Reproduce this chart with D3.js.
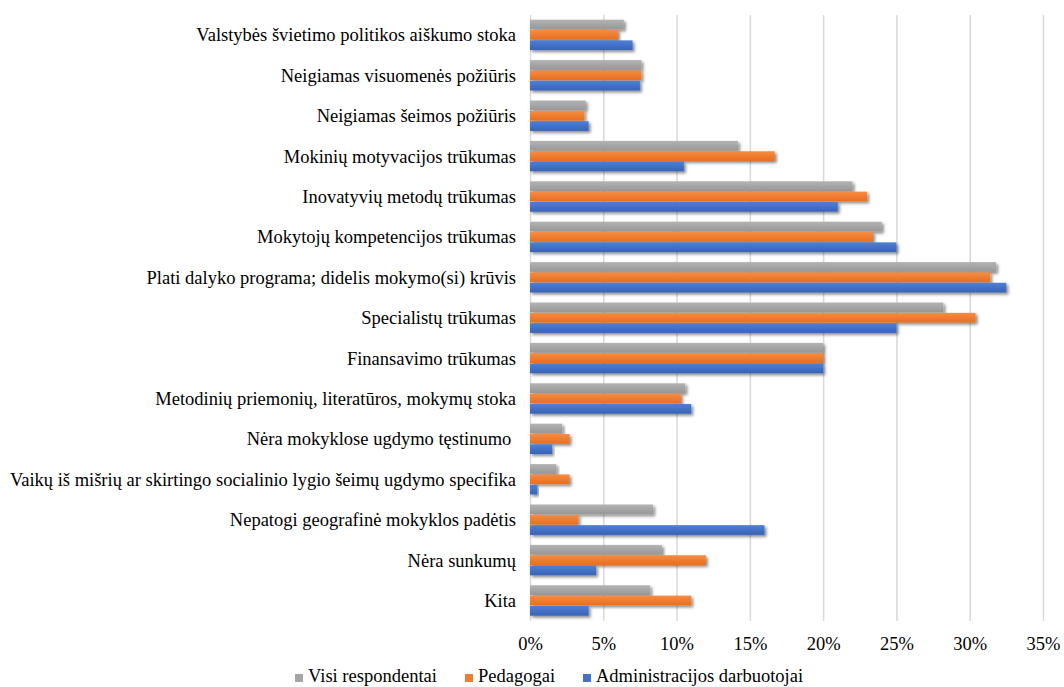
<!DOCTYPE html>
<html>
<head>
<meta charset="utf-8">
<script src="https://cdn.jsdelivr.net/npm/d3@7"></script>
<style>
  body { margin: 0; background: #fff; }
  text { font-family: "Liberation Serif", "Times New Roman", "DejaVu Serif", serif; fill: #000; }
</style>
</head>
<body>
<svg id="chart" width="1064" height="687"></svg>
<script>
const categories = [
    'Valstybės švietimo politikos aiškumo stoka',
    'Neigiamas visuomenės požiūris',
    'Neigiamas šeimos požiūris',
    'Mokinių motyvacijos trūkumas',
    'Inovatyvių metodų trūkumas',
    'Mokytojų kompetencijos trūkumas',
    'Plati dalyko programa; didelis mokymo(si) krūvis',
    'Specialistų trūkumas',
    'Finansavimo trūkumas',
    'Metodinių priemonių, literatūros, mokymų stoka',
    'Nėra mokyklose ugdymo tęstinumo ',
    'Vaikų iš mišrių ar skirtingo socialinio lygio šeimų ugdymo specifika',
    'Nepatogi geografinė mokyklos padėtis',
    'Nėra sunkumų',
    'Kita'
];
const seriesNames = ['Visi respondentai', 'Pedagogai', 'Administracijos darbuotojai'];
const visi = [6.4, 7.6, 3.8, 14.2, 22.0, 24.0, 31.8, 28.2, 20.0, 10.6, 2.2, 1.8, 8.4, 9.0, 8.2];
const pedagogai = [6.0, 7.6, 3.7, 16.7, 23.0, 23.4, 31.4, 30.4, 20.0, 10.3, 2.7, 2.7, 3.3, 12.0, 11.0];
const administracija = [7.0, 7.5, 4.0, 10.5, 21.0, 25.0, 32.5, 25.0, 20.0, 11.0, 1.5, 0.5, 16.0, 4.5, 4.0];
const xTicks = [0, 5, 10, 15, 20, 25, 30, 35];

const seriesValues = [visi, pedagogai, administracija];
const colours = [
    { top: '#b3b3b3', bottom: '#979797', key: '#a5a5a5' },
    { top: '#f68c42', bottom: '#e76e1f', key: '#ed7d31' },
    { top: '#4f7fd3', bottom: '#3763b8', key: '#4472c4' }
];

const svg = d3.select('#chart');
const margin = { left: 530, top: 15, right: 21, bottom: 66 };
const width = 1064 - margin.left - margin.right;
const height = 687 - margin.top - margin.bottom;
const fontSize = 18.5;
const serif = '"Liberation Serif", "Times New Roman", "DejaVu Serif", serif';

const defs = svg.append('defs');
const shadow = defs.append('filter')
    .attr('id', 'shadow')
    .attr('x', '-5%').attr('y', '-30%')
    .attr('width', '115%').attr('height', '190%');
shadow.append('feDropShadow')
    .attr('dx', 2).attr('dy', 2)
    .attr('stdDeviation', 1.4)
    .attr('flood-color', '#000')
    .attr('flood-opacity', 0.45);

colours.forEach((c, i) => {
    const grad = defs.append('linearGradient')
        .attr('id', `grad${i}`)
        .attr('x1', 0).attr('y1', 0).attr('x2', 0).attr('y2', 1);
    grad.append('stop').attr('offset', '0%').attr('stop-color', c.top);
    grad.append('stop').attr('offset', '100%').attr('stop-color', c.bottom);
});

const xScale = d3.scaleLinear().domain([0, 35]).range([0, width]);
const yScale = d3.scaleBand()
    .domain(categories)
    .range([0, height])
    .paddingInner(0.233)
    .paddingOuter(0.1165);
const yDotScale = d3.scaleBand()
    .domain(d3.range(seriesNames.length))
    .range([0, yScale.bandwidth()]);

const g = svg.append('g').attr('transform', `translate(${margin.left},${margin.top})`);

// gridlines + tick labels
const xAxis = g.append('g')
    .attr('transform', `translate(0,${height})`)
    .call(d3.axisBottom(xScale)
        .tickValues(xTicks)
        .tickSize(-height)
        .tickFormat(d => `${d}%`));
xAxis.attr('font-family', serif);
xAxis.select('.domain').remove();
xAxis.selectAll('line')
    .attr('stroke', '#d9d9d9')
    .attr('stroke-width', 1.5);
xAxis.selectAll('text')
    .attr('y', 29)
    .attr('dy', 0)
    .attr('font-size', fontSize)
    .attr('fill', '#000');

// category labels
g.append('g')
    .selectAll('text')
    .data(categories)
    .enter()
    .append('text')
    .attr('x', -14)
    .attr('y', d => yScale(d) + yScale.bandwidth() / 2)
    .attr('dy', '0.33em')
    .attr('text-anchor', 'end')
    .attr('font-size', fontSize)
    .style('white-space', 'pre')
    .text(d => d);

// bars
const groups = g.append('g')
    .selectAll('g')
    .data(categories)
    .enter()
    .append('g')
    .attr('transform', d => `translate(0,${yScale(d)})`);

groups.selectAll('rect')
    .data((d, i) => seriesValues.map((s, k) => ({ k, value: s[i] })))
    .enter()
    .append('rect')
    .attr('x', xScale(0))
    .attr('y', d => yDotScale(d.k))
    .attr('height', yDotScale.bandwidth() - 0.6)
    .attr('width', d => xScale(d.value) - xScale(0))
    .attr('fill', d => `url(#grad${d.k})`)
    .attr('filter', 'url(#shadow)');

// legend
const legendX = [295, 465, 583];
const legend = svg.append('g')
    .selectAll('g')
    .data(seriesNames)
    .enter()
    .append('g')
    .attr('transform', (d, i) => `translate(${legendX[i]},682)`);
legend.append('rect')
    .attr('x', 0)
    .attr('y', -8)
    .attr('width', 8)
    .attr('height', 8)
    .attr('fill', (d, i) => colours[i].key);
legend.append('text')
    .attr('x', 13)
    .attr('y', 0)
    .attr('font-size', fontSize)
    .text(d => d);
</script>
</body>
</html>
